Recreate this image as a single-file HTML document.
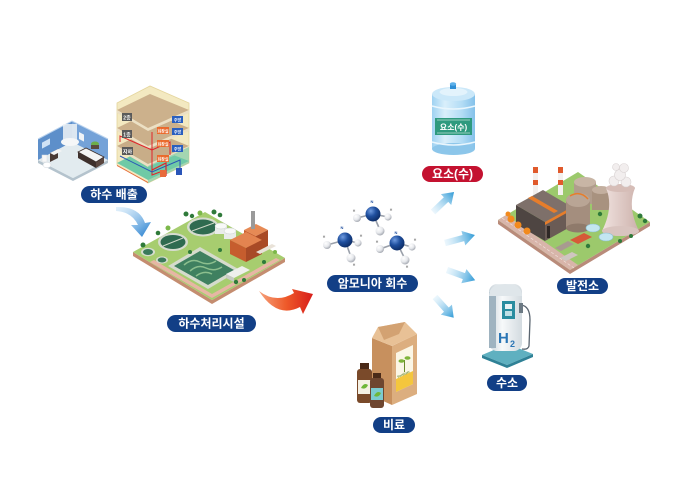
<!DOCTYPE html>
<html><head><meta charset="utf-8">
<style>
html,body{margin:0;padding:0;background:#fff;}
svg{display:block}
.lb{font-family:"Liberation Sans","Noto Sans CJK KR",sans-serif;font-weight:bold;font-size:12px;fill:#fff;}
.t{font-family:"Liberation Sans","Noto Sans CJK KR",sans-serif;font-weight:bold;}
</style></head><body>
<svg width="680" height="481" viewBox="0 0 680 481" xmlns="http://www.w3.org/2000/svg">
<defs>
<linearGradient id="ag" x1="0" y1="0" x2="1" y2="0"><stop offset="0" stop-color="#bfe3f7" stop-opacity="0.3"/><stop offset="1" stop-color="#2f9ad6"/></linearGradient>
<linearGradient id="bg1" x1="0" y1="0" x2="1" y2="1"><stop offset="0" stop-color="#a9d4f4" stop-opacity="0.3"/><stop offset="1" stop-color="#1a78cc"/></linearGradient>
<linearGradient id="rg" x1="0" y1="0" x2="1" y2="0"><stop offset="0" stop-color="#f6a27c"/><stop offset="0.5" stop-color="#ee5a2a"/><stop offset="1" stop-color="#d81e1a"/></linearGradient>
<linearGradient id="btl" x1="0" y1="0" x2="1" y2="0"><stop offset="0" stop-color="#9fd2f2"/><stop offset="0.3" stop-color="#d9effb"/><stop offset="0.7" stop-color="#b2dcf5"/><stop offset="1" stop-color="#84c1ea"/></linearGradient>
<radialGradient id="ng" cx="0.35" cy="0.3" r="0.7"><stop offset="0" stop-color="#6f9be0"/><stop offset="0.5" stop-color="#1f4f9e"/><stop offset="1" stop-color="#0e2f6a"/></radialGradient>
<radialGradient id="hg" cx="0.35" cy="0.3" r="0.7"><stop offset="0" stop-color="#ffffff"/><stop offset="0.6" stop-color="#e6e8ec"/><stop offset="1" stop-color="#a9adb5"/></radialGradient>
<linearGradient id="h2b" x1="0" y1="0" x2="1" y2="0"><stop offset="0" stop-color="#c9d3da"/><stop offset="0.4" stop-color="#f7f9fa"/><stop offset="1" stop-color="#d3dbe0"/></linearGradient>
<linearGradient id="ct" x1="0" y1="0" x2="1" y2="0"><stop offset="0" stop-color="#f0e2df"/><stop offset="1" stop-color="#cdb2ac"/></linearGradient>
</defs>

<!-- ===== Bathroom ===== -->
<polygon points="38,160 73,178 108,160 108,163 73,181 38,163" fill="#b4c3cd"/>
<polygon points="38,160 72,142 108,160 73,178" fill="#e2ebef"/>
<polygon points="38,160 72,142 72,121 38,139" fill="#5d8fca"/>
<polygon points="72,142 108,160 108,139 72,121" fill="#74a2d8"/>
<polyline points="38,139 72,121 108,139" fill="none" stroke="#bcd4ee" stroke-width="1"/>
<rect x="42" y="141" width="8" height="6" fill="#cfe2f5" transform="skewY(-28) translate(0,24)"/>
<rect x="63" y="124" width="14" height="18" fill="#eef3f6" opacity="0.85"/>
<ellipse cx="70" cy="142" rx="9" ry="4" fill="#f5f7f8"/>
<rect x="79" y="133" width="5" height="7" fill="#f0f4f7" transform="skewY(28) translate(0,-43)"/>
<ellipse cx="95" cy="144" rx="4" ry="2.5" fill="#6cae4a"/>
<rect x="91" y="145" width="8" height="4" fill="#5a4a3e"/>
<polygon points="50,153 58,149 58,158 50,162" fill="#4a3a35"/>
<polygon points="50,153 58,149 62,151 54,155" fill="#f5f5f5"/>
<rect x="42" y="155" width="5" height="7" fill="#f7f7f7" stroke="#d5dbe0" stroke-width="0.5"/>
<ellipse cx="47" cy="165" rx="4" ry="2.8" fill="#fff" stroke="#cfd6dc" stroke-width="0.5"/>
<polygon points="78,152 96,162 96,168 78,158" fill="#3e302c"/>
<polygon points="96,162 104,157 104,163 96,168" fill="#5b4740"/>
<polygon points="78,152 86,148 104,157 96,162" fill="#f4f4f4" stroke="#3e302c" stroke-width="0.8"/>

<!-- ===== Building ===== -->
<polygon points="117,103 150,86 189,103 189,163 148,183 117,165" fill="#f3e9c1" stroke="#e4d59c" stroke-width="0.8"/>
<polygon points="117,163 150,146 189,161 148,180" fill="#6fcaa6"/>
<polygon points="117,165 148,182 148,183 117,166" fill="#e86a3a"/>
<polygon points="117,146 150,130 189,146 148,164" fill="#c8ad88"/>
<polygon points="117,146 148,164 189,146 189,149 148,167 117,149" fill="#ece0c4"/>
<polygon points="117,128 150,112 189,128 148,146" fill="#cbb08b"/>
<polygon points="117,128 148,146 189,128 189,131 148,149 117,131" fill="#ece0c4"/>
<polygon points="117,110 150,94 189,110 148,128" fill="#ccb18c"/>
<polygon points="117,110 148,128 189,110 189,113 148,131 117,113" fill="#ece0c4"/>
<polygon points="148,166 189,147 189,163 148,183" fill="#6fcaa6" opacity="0.6"/>
<polyline points="120,142 120,136 152,150 152,175 160,172" fill="none" stroke="#e1232a" stroke-width="1"/>
<polyline points="152,132 152,150 170,142 170,155" fill="none" stroke="#e1232a" stroke-width="1"/>
<polyline points="120,156 152,172 180,160 180,172" fill="none" stroke="#2a55b8" stroke-width="1"/>
<polyline points="152,170 166,163 166,176" fill="none" stroke="#e1232a" stroke-width="1.2"/>
<rect x="160" y="170" width="6" height="7" fill="#e86a3a"/>
<rect x="176" y="168" width="6" height="7" fill="#2a55b8"/>
<rect x="122" y="113" width="10" height="8" fill="#5a5a5a"/><text x="127" y="119.5" class="t" font-size="5" fill="#fff" text-anchor="middle">2층</text>
<rect x="122" y="130" width="10" height="8" fill="#5a5a5a"/><text x="127" y="136.5" class="t" font-size="5" fill="#fff" text-anchor="middle">1층</text>
<rect x="122" y="147" width="11" height="8" fill="#5a5a5a"/><text x="127.5" y="153.5" class="t" font-size="5" fill="#fff" text-anchor="middle">지하</text>
<rect x="157" y="127" width="12" height="7" fill="#ea6a2c"/><text x="163" y="132.5" class="t" font-size="4" fill="#fff" text-anchor="middle">화장실</text>
<rect x="157" y="140" width="12" height="7" fill="#ea6a2c"/><text x="163" y="145.5" class="t" font-size="4" fill="#fff" text-anchor="middle">화장실</text>
<rect x="157" y="155" width="12" height="7" fill="#ea6a2c"/><text x="163" y="160.5" class="t" font-size="4" fill="#fff" text-anchor="middle">화장실</text>
<rect x="172" y="116" width="11" height="7" fill="#2a5fbf"/><text x="177.5" y="121.5" class="t" font-size="4" fill="#fff" text-anchor="middle">주방</text>
<rect x="172" y="128" width="11" height="7" fill="#2a5fbf"/><text x="177.5" y="133.5" class="t" font-size="4" fill="#fff" text-anchor="middle">주방</text>
<rect x="172" y="145" width="11" height="7" fill="#2a5fbf"/><text x="177.5" y="150.5" class="t" font-size="4" fill="#fff" text-anchor="middle">주방</text>

<rect x="81" y="186" width="66" height="17" rx="8.5" fill="#123f86"/>
<text x="114" y="198.5" class="lb" text-anchor="middle">하수 배출</text>

<path d="M116,207 Q139,206 145,223 L151,222 L142,237 L131,225 L138,225 Q132,212 116,211 Z" fill="url(#bg1)"/>

<!-- ===== Water treatment plant ===== -->
<polygon points="133,252 212,300 285,258 285,262 212,304 133,256" fill="#c48d70"/>
<polygon points="133,252 205,212 285,258 212,300" fill="#a7cd6f"/>
<polygon points="150,262 212,298 280,260 276,258 212,294 154,260" fill="#e7b6a4"/>
<ellipse cx="173" cy="242" rx="15" ry="9" fill="#d6dccf"/>
<ellipse cx="173" cy="242" rx="12.5" ry="7" fill="#2f6b50"/>
<line x1="163" y1="246" x2="183" y2="238" stroke="#cfd8c8" stroke-width="1"/>
<ellipse cx="203" cy="227" rx="16" ry="9.5" fill="#d6dccf"/>
<ellipse cx="203" cy="227" rx="13.5" ry="7.5" fill="#2f6b50"/>
<line x1="192" y1="231" x2="214" y2="223" stroke="#cfd8c8" stroke-width="1"/>
<ellipse cx="148" cy="252" rx="7" ry="4.2" fill="#d6dccf"/><ellipse cx="148" cy="252" rx="5" ry="3" fill="#3a7a5a"/>
<ellipse cx="162" cy="260" rx="6" ry="3.6" fill="#d6dccf"/><ellipse cx="162" cy="260" rx="4.3" ry="2.5" fill="#3a7a5a"/>
<polygon points="168,266 200,247 240,270 208,289" fill="#d5dbcc"/>
<polygon points="174,266 200,251 234,270 208,285" fill="#3f8060"/>
<path d="M184,265 Q192,258 200,262 Q208,266 216,261 M190,271 Q198,264 206,268 Q214,272 222,267 M196,276 Q204,270 212,274" fill="none" stroke="#8cbf8e" stroke-width="1.5"/>
<rect x="215" y="226" width="12" height="8" fill="#e9ecea"/><ellipse cx="221" cy="226" rx="6" ry="3" fill="#f8f9f8" stroke="#c9cfcc" stroke-width="0.5"/>
<rect x="224" y="231" width="12" height="8" fill="#e9ecea"/><ellipse cx="230" cy="231" rx="6" ry="3" fill="#f8f9f8" stroke="#c9cfcc" stroke-width="0.5"/>
<polygon points="244,230 256,224 268,230 256,236" fill="#e68a55"/>
<polygon points="244,230 256,236 256,252 244,246" fill="#c8602f"/>
<polygon points="256,236 268,230 268,246 256,252" fill="#a94a25"/>
<rect x="251" y="211" width="4" height="18" fill="#9a9a9a"/>
<polygon points="230,240 246,232 262,240 246,248" fill="#e38450"/>
<polygon points="230,240 246,248 246,262 230,254" fill="#c65d2e"/>
<polygon points="246,248 262,240 262,254 246,262" fill="#a84a26"/>
<polygon points="256,252 272,244 276,246 260,254" fill="#e9e2d8"/>
<polygon points="226,274 242,266 250,270 234,278" fill="#eef0ec"/>
<polygon points="226,274 234,278 234,282 226,278" fill="#c6cbc4"/>
<g fill="#2f7a3a">
<circle cx="143" cy="245" r="2.5"/><circle cx="186" cy="214" r="2.5"/><circle cx="192" cy="216" r="2.2"/>
<circle cx="214" cy="212" r="2.5"/><circle cx="220" cy="215" r="2.3"/><circle cx="158" cy="233" r="2.3"/>
<circle cx="236" cy="282" r="2.2"/><circle cx="244" cy="280" r="2"/><circle cx="264" cy="262" r="2"/>
<circle cx="220" cy="250" r="2"/><circle cx="190" cy="252" r="2"/>
</g>
<g fill="#7cb84a"><circle cx="200" cy="213" r="2.5"/><circle cx="168" cy="228" r="2.5"/><circle cx="275" cy="252" r="2"/></g>

<rect x="167" y="315" width="89" height="17" rx="8.5" fill="#123f86"/>
<text x="211.5" y="327.5" class="lb" text-anchor="middle">하수처리시설</text>

<!-- red arrow (thicker) -->
<path d="M259,291 Q276,304 294,293 L292,289 L313,294 L303,314 L300,307 Q277,319 259,291 Z" fill="url(#rg)"/>

<!-- ===== Ammonia molecules ===== -->
<g stroke="#9aa0aa" stroke-width="1.6">
<line x1="373" y1="214" x2="357" y2="218"/><line x1="373" y1="214" x2="388" y2="217"/><line x1="373" y1="214" x2="380" y2="230"/>
<line x1="345" y1="240" x2="327" y2="245"/><line x1="345" y1="240" x2="358" y2="243"/><line x1="345" y1="240" x2="351" y2="257"/>
<line x1="397" y1="243" x2="380" y2="249"/><line x1="397" y1="243" x2="412" y2="247"/><line x1="397" y1="243" x2="405" y2="259"/>
</g>
<g fill="url(#hg)">
<circle cx="357" cy="218" r="4"/><circle cx="388" cy="217" r="3.6"/>
<circle cx="327" cy="245" r="4"/><circle cx="358" cy="243" r="3.6"/>
<circle cx="380" cy="249" r="4"/><circle cx="412" cy="247" r="3.6"/>
</g>
<g fill="url(#ng)"><circle cx="373" cy="214" r="7.5"/><circle cx="345" cy="240" r="7.5"/><circle cx="397" cy="243" r="7.5"/></g>
<g fill="url(#hg)"><circle cx="380" cy="231" r="4.5"/><circle cx="351" cy="258" r="4.5"/><circle cx="405" cy="260" r="4.5"/></g>
<g class="t" font-size="4" fill="#1f4f9e" text-anchor="middle">
<text x="372" y="203">N</text><text x="342" y="229">N</text><text x="396" y="234">N</text>
</g>
<g class="t" font-size="3.5" fill="#888" text-anchor="middle">
<text x="354" y="212">H</text><text x="391" y="211">H</text><text x="324" y="238">H</text><text x="361" y="237">H</text>
<text x="377" y="243">H</text><text x="415" y="241">H</text><text x="354" y="266">H</text><text x="407" y="268">H</text>
</g>

<rect x="327" y="275" width="91" height="17" rx="8.5" fill="#123f86"/>
<text x="372.5" y="287.5" class="lb" text-anchor="middle">암모니아 회수</text>

<g fill="url(#ag)">
<path transform="translate(433,212) rotate(-43.5)" d="M0,-3.2 L18,-3.2 L18,-7.5 L29,0 L18,7.5 L18,3.2 L0,3.2 Z"/>
<path transform="translate(445,243) rotate(-15)" d="M0,-3.2 L19,-3.2 L19,-7.5 L31,0 L19,7.5 L19,3.2 L0,3.2 Z"/>
<path transform="translate(447,270) rotate(20)" d="M0,-3.2 L18,-3.2 L18,-7.5 L30,0 L18,7.5 L18,3.2 L0,3.2 Z"/>
<path transform="translate(435,297) rotate(48)" d="M0,-3.2 L17,-3.2 L17,-7.5 L28,0 L17,7.5 L17,3.2 L0,3.2 Z"/>
</g>

<!-- ===== Urea bottle ===== -->
<rect x="432" y="94" width="43" height="55" fill="url(#btl)"/>
<ellipse cx="453.5" cy="149" rx="21.5" ry="6" fill="#8cc6ea"/>
<ellipse cx="453.5" cy="94" rx="21.5" ry="7" fill="#cbe8f9"/>
<ellipse cx="453.5" cy="92" rx="14" ry="4" fill="#e3f3fc"/>
<rect x="450" y="84" width="6" height="5" fill="#2e8fd6"/>
<ellipse cx="453" cy="84" rx="3.2" ry="1.8" fill="#5cb0ea"/>
<path d="M432,106 Q453.5,112 475,106" fill="none" stroke="#e9f6fd" stroke-width="1.5"/>
<path d="M432,142 Q453.5,148 475,142" fill="none" stroke="#e9f6fd" stroke-width="1.5"/>
<rect x="435" y="118" width="37" height="17" fill="#2e9a7e"/>
<line x1="437" y1="120" x2="470" y2="120" stroke="#fff" stroke-width="0.5"/>
<line x1="437" y1="133" x2="470" y2="133" stroke="#fff" stroke-width="0.5"/>
<text x="453.5" y="130" class="t" font-size="8" fill="#fff" text-anchor="middle">요소(수)</text>

<rect x="422" y="166" width="61" height="16" rx="8" fill="#c41230"/>
<text x="452.5" y="178" class="lb" text-anchor="middle">요소(수)</text>

<!-- ===== Power plant ===== -->
<polygon points="498,220 570,270 650,222 650,226 570,274 498,224" fill="#b98b7a"/>
<polygon points="498,220 578,172 650,222 570,270" fill="#9cc96c"/>
<polygon points="498,220 570,270 578,265 506,215" fill="#d8b5aa"/>
<line x1="502" y1="218" x2="574" y2="268" stroke="#f3e6e0" stroke-width="0.6" stroke-dasharray="3,2"/>
<rect x="533" y="167" width="5" height="33" fill="#f3f0ee"/>
<rect x="533" y="167" width="5" height="6" fill="#e05a2c"/><rect x="533" y="180" width="5" height="5" fill="#e05a2c"/>
<rect x="558" y="167" width="5" height="28" fill="#f3f0ee"/>
<rect x="558" y="167" width="5" height="6" fill="#e05a2c"/><rect x="558" y="180" width="5" height="5" fill="#e05a2c"/>
<rect x="574" y="182" width="22" height="22" fill="#b19d8d"/>
<ellipse cx="585" cy="182" rx="11" ry="5" fill="#c8b5a5"/>
<rect x="592" y="190" width="18" height="20" fill="#a8927f"/>
<ellipse cx="601" cy="190" rx="9" ry="4" fill="#c3af9f"/>
<polygon points="516,205 545,222 545,241 516,224" fill="#4e4542"/>
<polygon points="545,222 572,207 572,226 545,241" fill="#6a5b55"/>
<polygon points="516,205 543,190 572,207 545,222" fill="#7e706a"/>
<polygon points="528,198 554,213 558,211 532,196" fill="#e67d2b"/>
<polygon points="545,222 572,207 572,210 545,225" fill="#e67d2b"/>
<rect x="547" y="226" width="3" height="12" fill="#2f2826"/>
<rect x="566" y="200" width="24" height="28" fill="#a48e7e"/>
<ellipse cx="578" cy="228" rx="12" ry="4.5" fill="#8f7a6b"/>
<ellipse cx="578" cy="200" rx="12" ry="7" fill="#b9a595"/>
<path d="M570,196 Q580,190 588,199" fill="none" stroke="#e67d2b" stroke-width="1.5"/>
<path d="M606,188 Q614,207 602,231 Q620,241 639,231 Q627,207 635,188 Z" fill="url(#ct)"/>
<ellipse cx="620.5" cy="188" rx="14.5" ry="4" fill="#d6bdb7"/>
<ellipse cx="620.5" cy="231" rx="18.5" ry="5" fill="#d9c4bf"/>
<g fill="#f2eeee" stroke="#d9d3d3" stroke-width="0.6">
<circle cx="614" cy="181" r="5"/><circle cx="626" cy="182" r="5"/><circle cx="620" cy="175" r="5.5"/><circle cx="624" cy="168" r="4.5"/><circle cx="616" cy="167" r="3.5"/>
</g>
<g fill="#f28a1e"><circle cx="511" cy="219" r="3.5"/><circle cx="518" cy="225" r="3.5"/><circle cx="527" cy="231" r="3.5"/><circle cx="508" cy="214" r="2.5"/></g>
<ellipse cx="593" cy="228" rx="7" ry="4" fill="#c3e6f1" stroke="#8bbfd0" stroke-width="0.6"/>
<ellipse cx="606" cy="237" rx="7" ry="4" fill="#c3e6f1" stroke="#8bbfd0" stroke-width="0.6"/>
<polygon points="570,240 584,233 592,237 578,244" fill="#d65a38"/>
<polygon points="555,248 568,241 574,244 561,251" fill="#a89a90"/>
<polygon points="560,258 572,252 578,255 566,261" fill="#cfc6c0"/>
<g fill="#2f7a3a"><circle cx="640" cy="216" r="2.5"/><circle cx="645" cy="221" r="2.2"/><circle cx="600" cy="214" r="2.2"/><circle cx="588" cy="246" r="2.2"/><circle cx="620" cy="241" r="2"/><circle cx="631" cy="236" r="2"/></g>

<rect x="557" y="278" width="51" height="16" rx="8" fill="#123f86"/>
<text x="582.5" y="290" class="lb" text-anchor="middle">발전소</text>

<!-- ===== H2 station ===== -->
<polygon points="482,355 508,344 533,354 507,365" fill="#5fb0c0"/>
<polygon points="482,355 507,365 533,354 533,357 507,368 482,358" fill="#2f8196"/>
<rect x="489" y="284" width="33" height="67" rx="8" fill="url(#h2b)"/>
<rect x="489" y="292" width="7" height="56" fill="#9fb3c0"/>
<path d="M489,296 Q489,284 505,284 Q522,284 522,296 Z" fill="#dfe6ea"/>
<rect x="502" y="301" width="13" height="18" fill="#2a8da0"/>
<rect x="505" y="304" width="7" height="5" fill="#e9f3f5"/>
<rect x="505" y="311" width="7" height="5" fill="#bfe0e6"/>
<text x="498" y="343" class="t" font-size="15" fill="#2b76b5">H</text>
<text x="510" y="347" class="t" font-size="9" fill="#2b76b5">2</text>
<path d="M521,305 Q530,306 530,320 L529,346 Q528,350 522,349" fill="none" stroke="#5a6570" stroke-width="1.3"/>
<rect x="519" y="303" width="4" height="10" fill="#6c7a84"/>

<rect x="487" y="375" width="40" height="16" rx="8" fill="#123f86"/>
<text x="507" y="387" class="lb" text-anchor="middle">수소</text>

<!-- ===== Fertilizer ===== -->
<polygon points="372,338 392,346 392,405 372,396" fill="#c7905e"/>
<polygon points="392,346 417,334 417,394 392,405" fill="#dcae7f"/>
<polygon points="372,338 378,327 405,322 417,334 392,346" fill="#e8c196"/>
<polygon points="378,327 405,322 399,334 384,340" fill="#d3a272"/>
<polygon points="396,353 413,345 413,384 396,392" fill="#fbf6e6"/>
<polygon points="396,379 413,371 413,384 396,392" fill="#f4c63d"/>
<line x1="404.5" y1="372" x2="404.5" y2="360" stroke="#6a8a2a" stroke-width="1"/>
<ellipse cx="401.5" cy="361" rx="3" ry="1.8" fill="#7fb43a"/>
<ellipse cx="407.5" cy="358" rx="3" ry="1.8" fill="#7fb43a"/>
<text x="398" y="378" class="t" font-size="3.2" fill="#6a8a2a" transform="rotate(-25 398 378)">Fertilizer</text>
<rect x="360" y="363" width="9" height="7" fill="#4a2a18"/>
<rect x="357" y="369" width="15" height="34" rx="3" fill="#7a4a2a"/>
<rect x="358" y="380" width="13" height="14" fill="#f5f1e4"/>
<path d="M361,388 Q364,382 368,385 Q366,390 361,388 Z" fill="#6fb73a"/>
<rect x="373" y="373" width="8" height="6" fill="#4a2a18"/>
<rect x="370" y="378" width="14" height="30" rx="3" fill="#6e4630"/>
<rect x="371" y="388" width="12" height="12" fill="#7ccbd0"/>
<path d="M374,396 Q377,390 381,393 Q379,398 374,396 Z" fill="#6fb73a"/>

<rect x="373" y="417" width="42" height="16" rx="8" fill="#123f86"/>
<text x="394" y="429" class="lb" text-anchor="middle">비료</text>
</svg>
</body></html>
